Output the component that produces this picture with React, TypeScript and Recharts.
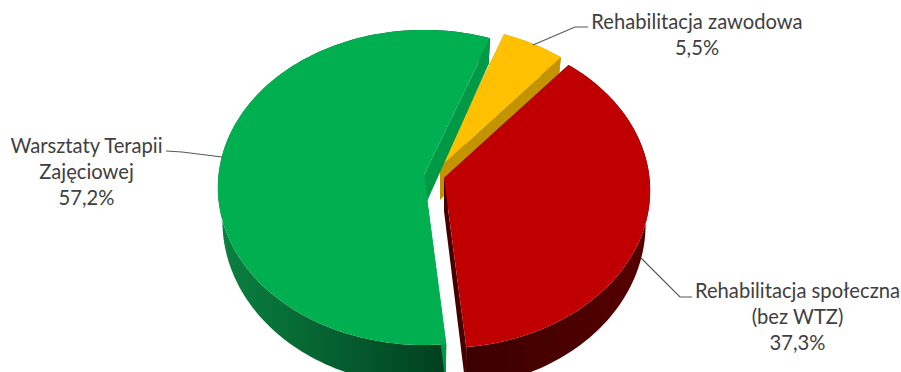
import React from "react";
import { PieChart, Pie } from "recharts";

const categories = ["Rehabilitacja zawodowa", "Rehabilitacja społeczna", "Warsztaty Terapii Zajęciowej"];
const shares = [5.5, 37.3, 57.2];
const labelLines = [["Rehabilitacja zawodowa"], ["Rehabilitacja społeczna", "(bez WTZ)"], ["Warsztaty Terapii", "Zajęciowej"]];

const chartData = categories.map((name, i) => ({ name, value: shares[i], idx: i }));

const P = 0.079;
const TILT = 0.762;
const PIE_CX = 436;
const PIE_CY = 180;

type Look = {
  dx: number; dy: number; scale: number; top: string; radial: string; wallA: string; wallB: string; gx1: number; gx2: number;
  text: { x: number; y: number }; leader: string;
};
const looks: Look[] = [
  { dx: 4, dy: -13, scale: 0.97, top: "#FFC000", radial: "#C49400", wallA: "#C49400", wallB: "#C49400", gx1: 440, gx2: 562,
    text: { x: 697, y: 22 }, leader: "588,27 575,27 533,45" },
  { dx: 8, dy: -2, scale: 1, top: "#C00000", radial: "#470000", wallA: "#3C0000", wallB: "#560000", gx1: 467, gx2: 650,
    text: { x: 797.5, y: 291 }, leader: "692,297 680,297 641,258" },
  { dx: -12, dy: -5, scale: 1, top: "#00B050", radial: "#009A46", wallA: "#0A8040", wallB: "#00401F", gx1: 222, gx2: 445,
    text: { x: 86.5, y: 146 }, leader: "166,151 182,152 222,157" },
];

const pt = (cx: number, cy: number, r: number, a: number, low: boolean): [number, number] => {
  const rad = (a * Math.PI) / 180;
  const u = Math.cos(rad);
  const v = Math.sin(rad);
  const s = 1 / (1 + P * v);
  let x = r * u * s;
  let y = -r * TILT * v * s;
  if (low) {
    x *= 0.978;
    y = y * 0.985 + 33 - 9.5 * v;
  }
  return [cx + x, cy + y];
};

const toPath = (pts: [number, number][]) =>
  "M" + pts.map((p) => `${p[0].toFixed(2)},${p[1].toFixed(2)}`).join("L") + "Z";

const Slice = (props: any) => {
  const { cx, cy, outerRadius, startAngle, endAngle, idx, payload } = props;
  const i = idx ?? payload?.idx ?? 0;
  const k = looks[i];
  const X = cx + k.dx;
  const Y = cy + k.dy;
  const R = outerRadius * k.scale;
  const n = Math.max(2, Math.ceil(Math.abs(endAngle - startAngle) / 1.5));
  const angles = Array.from({ length: n + 1 }, (_, j) => startAngle + ((endAngle - startAngle) * j) / n);
  const rimTop = angles.map((a) => pt(X, Y, R, a, false));
  const rimLow = angles.map((a) => pt(X, Y, R, a, true));
  const apexTop = pt(X, Y, 0, 0, false);
  const apexLow = pt(X, Y, 0, 0, true);
  const gid = `wall-${i}`;
  return (
    <g>
      <defs>
        <linearGradient id={gid} gradientUnits="userSpaceOnUse" x1={k.gx1} x2={k.gx2} y1={0} y2={0}>
          <stop offset="0" stopColor={k.wallA} />
          <stop offset="1" stopColor={k.wallB} />
        </linearGradient>
      </defs>
      <path d={toPath([...rimTop, ...[...rimLow].reverse()])} fill={`url(#${gid})`} />
      <path d={toPath([apexTop, rimTop[0], rimLow[0], apexLow])} fill={k.radial} />
      <path d={toPath([apexTop, rimTop[n], rimLow[n], apexLow])} fill={k.radial} />
      <path d={toPath([apexTop, ...rimTop])} fill={k.top} />
    </g>
  );
};

const renderLabel = (props: any) => {
  const i = props.payload?.idx ?? props.index ?? 0;
  const k = looks[i];
  const lines = [...labelLines[i], `${shares[i].toFixed(1).replace(".", ",")}%`];
  return (
    <g>
      <polyline points={k.leader} fill="none" stroke="#595959" strokeWidth={1.2} />
      <text textAnchor="middle" fontFamily="Lato, sans-serif" fontSize={20.2} fill="#404040">
        {lines.map((t, j) => (
          <tspan key={j} x={k.text.x} y={k.text.y + j * 26.3} dy={6.5}>
            {t}
          </tspan>
        ))}
      </text>
    </g>
  );
};

export default function App() {
  return (
    <div style={{ position: "absolute", left: 0, top: 0, width: 901, height: 372, overflow: "hidden", background: "#fff" }}>
      <PieChart width={901} height={372} margin={{ top: 0, right: 0, bottom: 0, left: 0 }}>
        <Pie
          data={chartData}
          dataKey="value"
          nameKey="name"
          cx={PIE_CX}
          cy={PIE_CY}
          innerRadius={0}
          outerRadius={205.5}
          startAngle={69.8}
          endAngle={-290.2}
          stroke="none"
          isAnimationActive={false}
          shape={Slice}
          label={renderLabel}
          labelLine={false}
        />
      </PieChart>
    </div>
  );
}
